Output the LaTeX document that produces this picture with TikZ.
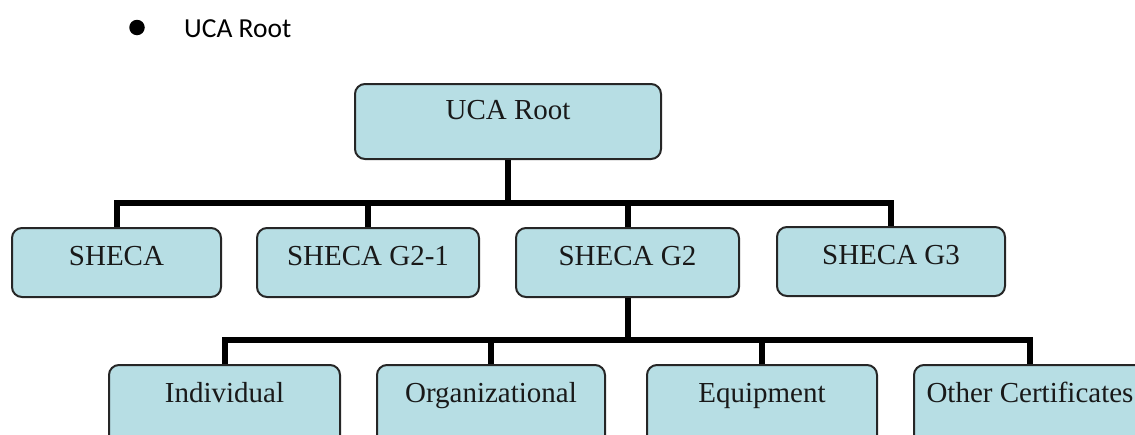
\documentclass[tikz,border=0pt]{standalone}
\usepackage{fontspec}
\setmainfont{Liberation Serif}
\newfontfamily\calfont{Carlito}
\definecolor{boxfill}{RGB}{183,222,228}
\begin{document}
\begin{tikzpicture}[x=1pt,y=-1pt,
  box/.style={draw=black!85, line width=2pt, fill=boxfill, rounded corners=10pt,
    inner sep=0pt, font=\fontsize{29}{34}\selectfont, text=black!90, anchor=north},
  lvltwo/.style={box, text height=37pt, text depth=32pt},
  lvlthree/.style={box, text height=37pt, text depth=60pt},
  conn/.style={line width=6pt, draw=black, line join=miter}]
\useasboundingbox (0,0) rectangle (1135,434);
\clip (0,0) rectangle (1135,434);
% header
\node[fill=black, circle, inner sep=0pt, minimum size=15.5pt] (bullet) at (137,27.5) {};
\node[anchor=base west, inner sep=0pt, font=\calfont\fontsize{27.5}{33}\selectfont] (title) at (184,37) {UCA Root};
% boxes
\node[box, minimum width=306pt, text height=35pt, text depth=40pt] (root) at (508,83) {UCA Root};
\node[lvltwo, minimum width=209pt] (sheca) at (116.5,227) {SHECA};
\node[lvltwo, minimum width=222pt] (g21) at (368,227) {SHECA G2-1};
\node[lvltwo, minimum width=223pt] (g2) at (627.5,227) {SHECA G2};
\node[lvltwo, minimum width=228pt] (g3) at (891,226) {SHECA G3};
\node[lvlthree, minimum width=231pt] (ind) at (224.5,364) {Individual};
\node[lvlthree, minimum width=228pt] (org) at (491,364) {Organizational};
\node[lvlthree, minimum width=230pt] (equ) at (762,364) {Equipment};
\node[lvlthree, minimum width=232pt] (oth) at (1030,364) {Other Certificates};
% connectors
\coordinate (bus1) at (0,203);
\coordinate (bus2) at (0,340);
\draw[conn] (root.south) -- (root.south |- bus1);
\draw[conn] (sheca.north) -- (sheca.north |- bus1) -| (g3.north);
\draw[conn] (g21.north) -- (g21.north |- bus1);
\draw[conn] (g2.north) -- (g2.north |- bus1);
\draw[conn] (g2.south) -- (g2.south |- bus2);
\draw[conn] (ind.north) -- (ind.north |- bus2) -| (oth.north);
\draw[conn] (org.north) -- (org.north |- bus2);
\draw[conn] (equ.north) -- (equ.north |- bus2);
\end{tikzpicture}
\end{document}
